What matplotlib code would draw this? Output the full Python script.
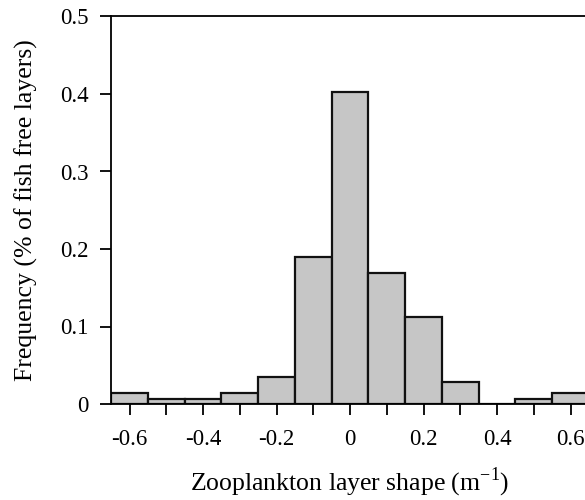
import matplotlib
matplotlib.use("Agg")
import matplotlib.pyplot as plt

centers = [-0.6, -0.5, -0.4, -0.3, -0.2, -0.1, 0.0, 0.1, 0.2, 0.3, 0.4, 0.5, 0.6]
freq = [0.0146, 0.0066, 0.0066, 0.0146, 0.035, 0.190, 0.402, 0.169, 0.112, 0.028, 0.0, 0.0066, 0.0146]
xticklabels = ["-0.6", "", "-0.4", "", "-0.2", "", "0", "", "0.2", "", "0.4", "", "0.6"]
yticks = [0, 0.1, 0.2, 0.3, 0.4, 0.5]
yticklabels = ["0", "0.1", "0.2", "0.3", "0.4", "0.5"]

plt.rcParams['font.family'] = ['Liberation Serif', 'DejaVu Serif']

fig = plt.figure(figsize=(5.85, 5.0), dpi=100)
ax = fig.add_axes([0.19, 0.192, 0.8167, 0.775])

ax.bar(centers, freq, width=0.1, color='#c6c6c6', edgecolor='#111111', linewidth=1.6, zorder=2)

ax.set_xlim(-0.65, 0.65)
ax.set_ylim(0, 0.5)
ax.set_xticks(centers)
ax.set_xticklabels(xticklabels)
ax.tick_params(axis='x', direction='out', length=8, width=1.3, pad=10, labelsize=16.5)
ax.set_yticks(yticks)
ax.set_yticklabels(yticklabels)
ax.tick_params(axis='y', direction='out', length=8, width=1.3, labelsize=16.5, pad=8)

for s in ['left', 'top', 'bottom']:
    ax.spines[s].set_linewidth(1.3)
ax.spines['right'].set_visible(False)

ax.set_xlabel("Zooplankton layer shape (m$^{\\mathregular{-1}}$)", fontsize=18.5, labelpad=11)
ax.set_ylabel("Frequency (% of fish free layers)", fontsize=18.5, labelpad=16)

fig.savefig("out.png", dpi=100)
